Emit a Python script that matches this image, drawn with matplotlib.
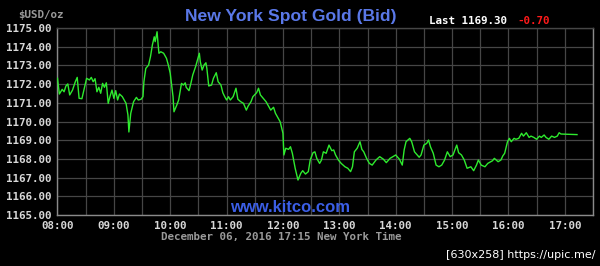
import matplotlib.pyplot as plt
import numpy as np
from matplotlib.ticker import MultipleLocator, FuncFormatter

mono = 'DejaVu Sans Mono'

# minutes after 08:00 (New York time) and bid price in $USD/oz
minutes = [0, 2, 5, 7, 9, 11, 13, 16, 19, 21, 23, 26, 28, 31, 34, 36, 38, 40, 42, 44,
           46, 48, 50, 52, 54, 56, 58, 60, 62, 64, 66, 69, 71, 73, 75, 76, 78, 81, 84, 86,
           89, 91, 92, 94, 97, 99, 101, 103, 104, 106, 107, 108, 110, 113, 116, 118, 120, 123, 124, 127,
           129, 132, 134, 136, 137, 140, 142, 144, 147, 149, 151, 152, 154, 156, 158, 159, 161, 164, 166, 169,
           171, 174, 176, 178, 180, 182, 184, 187, 190, 192, 195, 198, 201, 203, 206, 208, 212, 214, 216, 219,
           222, 225, 227, 230, 232, 234, 237, 240, 241, 243, 246, 248, 250, 253, 256, 259, 261, 264, 267, 269,
           272, 274, 276, 279, 281, 283, 286, 289, 292, 294, 296, 299, 302, 306, 309, 312, 314, 316, 319, 322,
           324, 326, 329, 332, 335, 339, 343, 347, 350, 354, 357, 360, 364, 367, 369, 371, 375, 377, 380, 385,
           387, 390, 393, 395, 397, 400, 403, 406, 409, 412, 415, 418, 421, 425, 427, 430, 433, 436, 440, 443,
           446, 448, 451, 455, 458, 463, 465, 469, 472, 474, 476, 479, 481, 483, 486, 488, 491, 494, 496, 499,
           502, 504, 507, 510, 513, 515, 518, 520, 523, 526, 529, 532, 534, 536, 553]
prices = [1172.31, 1171.47, 1171.72, 1171.59, 1171.90, 1172.01, 1171.42, 1171.68, 1172.13, 1172.36,
          1171.24, 1171.22, 1171.65, 1172.31, 1172.22, 1172.36, 1172.13, 1172.29, 1171.59, 1171.83,
          1171.51, 1172.04, 1171.83, 1172.07, 1170.97, 1171.36, 1171.68, 1171.24, 1171.65, 1171.15,
          1171.47, 1171.33, 1171.15, 1170.97, 1170.35, 1169.44, 1170.44, 1171.06, 1171.29, 1171.15,
          1171.19, 1171.33, 1172.13, 1172.84, 1173.02, 1173.47, 1174.09, 1174.53, 1174.27, 1174.80,
          1174.18, 1173.65, 1173.73, 1173.65, 1173.38, 1173.02, 1172.58, 1171.33, 1170.52, 1170.88,
          1171.15, 1172.04, 1171.95, 1172.07, 1171.83, 1171.65, 1172.04, 1172.49, 1172.93, 1173.29,
          1173.65, 1173.20, 1172.75, 1173.02, 1173.14, 1172.84, 1171.90, 1171.95, 1172.31, 1172.61,
          1172.13, 1171.95, 1171.54, 1171.33, 1171.15, 1171.33, 1171.15, 1171.33, 1171.78, 1171.19,
          1171.06, 1170.97, 1170.61, 1170.83, 1171.06, 1171.33, 1171.54, 1171.78, 1171.42, 1171.24,
          1171.06, 1170.79, 1170.61, 1170.76, 1170.44, 1170.26, 1169.99, 1169.37, 1168.21, 1168.57,
          1168.51, 1168.65, 1168.30, 1167.50, 1166.87, 1167.23, 1167.37, 1167.19, 1167.32, 1167.94,
          1168.33, 1168.38, 1168.03, 1167.76, 1167.94, 1168.38, 1168.30, 1168.74, 1168.44, 1168.48,
          1168.21, 1167.94, 1167.76, 1167.58, 1167.50, 1167.32, 1167.58, 1168.38, 1168.57, 1168.92,
          1168.51, 1168.38, 1168.03, 1167.76, 1167.67, 1167.94, 1168.12, 1167.98, 1167.80, 1168.03,
          1168.12, 1168.21, 1167.98, 1167.67, 1168.48, 1168.92, 1169.10, 1168.92, 1168.38, 1168.09,
          1168.21, 1168.74, 1168.83, 1169.01, 1168.65, 1168.30, 1167.67, 1167.58, 1167.67, 1167.94,
          1168.38, 1168.12, 1168.21, 1168.74, 1168.33, 1168.21, 1167.94, 1167.50, 1167.58, 1167.37,
          1167.67, 1167.94, 1167.67, 1167.58, 1167.76, 1167.90, 1168.03, 1167.85, 1167.94, 1168.16,
          1168.30, 1168.92, 1169.10, 1168.92, 1169.10, 1169.05, 1169.10, 1169.37, 1169.22, 1169.40,
          1169.15, 1169.22, 1169.15, 1169.05, 1169.22, 1169.15, 1169.28, 1169.15, 1169.05, 1169.22,
          1169.15, 1169.22, 1169.40, 1169.33, 1169.30]

last_price = "1169.30"
change = "-0.70"
stamp = "December 06, 2016 17:15 New York Time"

fig = plt.figure(figsize=(6, 2.66), dpi=100, facecolor='black')
ax = fig.add_axes([0.0958, 0.1917, 0.8925, 0.703])
ax.set_facecolor('black')

ax.plot(minutes, prices, color='#2eea2e', lw=1.0, zorder=3)

ax.set_xlim(0, 570)
ax.set_ylim(1165, 1175)
ax.xaxis.set_major_locator(MultipleLocator(60))
ax.xaxis.set_minor_locator(MultipleLocator(30))
ax.yaxis.set_major_locator(MultipleLocator(1))
ax.xaxis.set_major_formatter(FuncFormatter(lambda v, p: "%02d:%02d" % (8 + int(v) // 60, int(v) % 60)))
ax.yaxis.set_major_formatter(FuncFormatter(lambda v, p: "%.2f" % v))
ax.grid(which='both', color='#464646', lw=0.9)
ax.tick_params(which='both', length=0, colors='#d8d8d8', labelsize=7.8, pad=4)
for lab in ax.get_xticklabels() + ax.get_yticklabels():
    lab.set_family(mono)
    lab.set_weight('bold')
for s in ax.spines.values():
    s.set_color('#8a8a8a')
    s.set_linewidth(1)
ax.spines['top'].set_color('#464646')

fig.text(18 / 600, 1 - 15 / 266, "$USD/oz", family=mono, weight='bold', fontsize=7.8,
         color='#9a9a9a', va='center', ha='left')
fig.text(291 / 600, 1 - 16 / 266, "New York Spot Gold (Bid)", family='Liberation Sans',
         weight='bold', fontsize=12.6, color='#5a78e8', va='center', ha='center')
fig.text(429 / 600, 1 - 21 / 266, "Last " + last_price, family=mono, weight='bold',
         fontsize=7.8, color='white', va='center', ha='left')
fig.text(517 / 600, 1 - 21 / 266, change, family=mono, weight='bold',
         fontsize=7.8, color='#ff1a1a', va='center', ha='left')
fig.text(290 / 600, 1 - 208 / 266, "www.kitco.com", family='Liberation Sans', weight='bold',
         fontsize=12, color='#3b5ee6', va='center', ha='center', zorder=5)
fig.text(281 / 600, 1 - 237 / 266, stamp, family=mono, weight='bold', fontsize=7.8,
         color='#9a9a9a', va='center', ha='center')
fig.text(595 / 600, 1 - 255 / 266, "[630x258] https://upic.me/", family='DejaVu Sans',
         fontsize=8, color='white', va='center', ha='right')

fig.savefig('out.png', dpi=100, facecolor='black')
